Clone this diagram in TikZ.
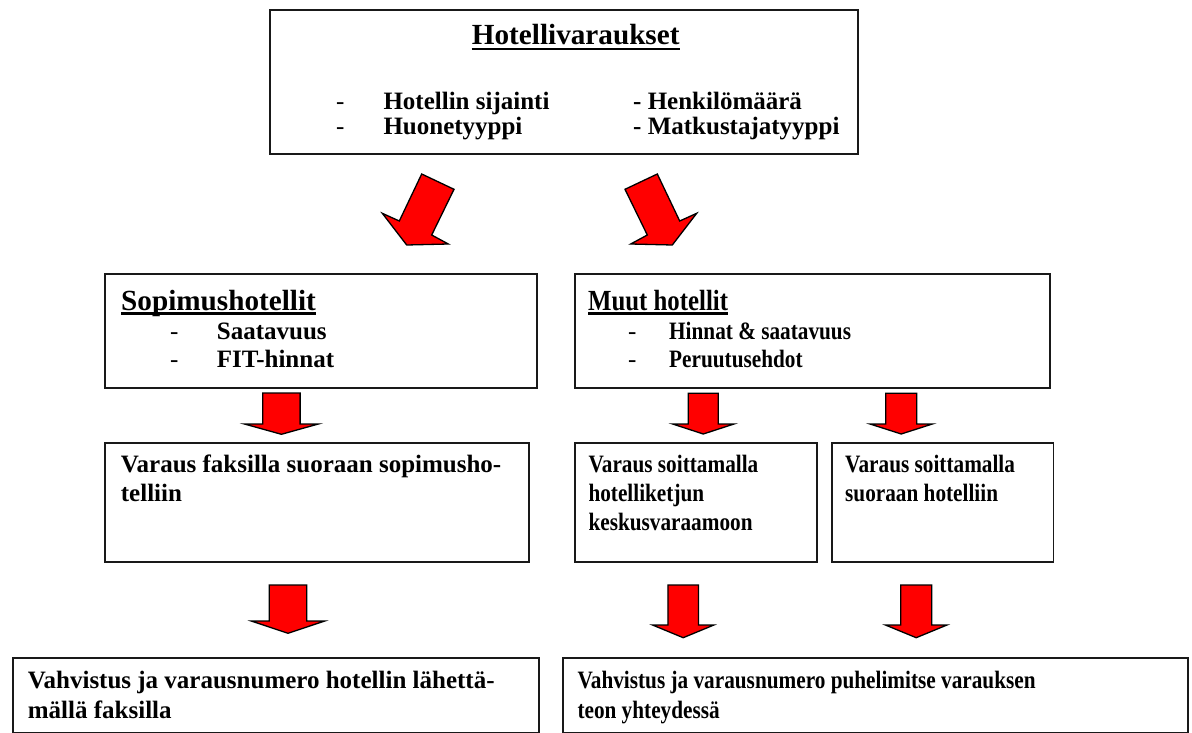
\documentclass[tikz,border=0pt]{standalone}
\usepackage{fontspec}
\setmainfont{Liberation Serif}
\newfontfamily\condfont[FakeStretch=0.85]{Liberation Serif}
\newcommand\blockdown[6]{%
  \draw[blockarrow] ({#1-#2},#4) -- ({#1+#2},#4) -- ({#1+#2},#5) -- ({#1+#3},#5)
    -- (#1,#6) -- ({#1-#3},#5) -- ({#1-#2},#5) -- cycle;}
\begin{document}
\begin{tikzpicture}[x=1pt,y=-1pt,
  box/.style={draw=black!90, line width=1.6pt, inner sep=0pt, anchor=north west, fill=white},
  txt/.style={anchor=base west, inner sep=0pt, font=\bfseries\fontsize{25}{30}\selectfont},
  ctxt/.style={anchor=base west, inner sep=0pt, font=\condfont\bfseries\fontsize{25}{30}\selectfont},
  bullet/.style={anchor=base west, inner sep=0pt, font=\fontsize{25}{30}\selectfont},
  ttl/.style={anchor=base west, inner sep=0pt, font=\bfseries\fontsize{29.2}{34}\selectfont},
  cttl/.style={anchor=base west, inner sep=0pt, font=\condfont\bfseries\fontsize{29.2}{34}\selectfont},
  ul/.style={line width=2.6pt, black},
  blockarrow/.style={fill=red, draw=black, line width=1.3pt, line join=miter}]
\useasboundingbox (0,0) rectangle (1192,733);

% boxes
\node[box, minimum width=588pt, minimum height=144pt] (top) at (269,9.5) {};
\node[box, minimum width=432pt, minimum height=114pt] (sop) at (104,273) {};
\node[box, minimum width=475pt, minimum height=114pt] (muut) at (574,273) {};
\node[box, minimum width=424pt, minimum height=119pt] (vf) at (104,442) {};
\node[box, minimum width=242pt, minimum height=119pt] (vsh) at (574,442) {};
\node[box, minimum width=221.5pt, minimum height=119pt] (vss) at (831,442) {};
\node[box, minimum width=526pt, minimum height=75pt] (bl) at (12,657) {};
\node[box, minimum width=625pt, minimum height=74.5pt] (br) at (562,657) {};

% top box text
\node[ttl] (t0) at (471.7,44.5) {Hotellivaraukset};
\draw[ul] ([yshift=-4.5pt]t0.base west) -- ([yshift=-4.5pt]t0.base east);
\node[bullet] (d1) at (336,109.5) {-};
\node[txt] (t1) at (383.3,109.5) {Hotellin sijainti};
\node[bullet] (d2) at (336,134.5) {-};
\node[txt] (t2) at (383.3,134.5) {Huonetyyppi};
\node[txt] (t3) at (633,109.5) {- Henkilömäärä};
\node[txt] (t4) at (633,134.5) {- Matkustajatyyppi};

% diagonal arrows
\draw[blockarrow] (421.7,174) -- (454,189.3) -- (431.7,235) -- (448.3,244) -- (406.7,245)
  -- (382.3,213.3) -- (399.3,221) -- cycle;
\draw[blockarrow] (657.3,174) -- (625,189.3) -- (647.3,235) -- (630.7,244) -- (672.3,245)
  -- (696.7,213.3) -- (679.7,221) -- cycle;

% Sopimushotellit
\node[ttl] (s0) at (121,310) {Sopimushotellit};
\draw[ul] ([yshift=-3.5pt]s0.base west) -- ([yshift=-3.5pt]s0.base east);
\node[bullet] (sd1) at (170,339) {-};
\node[txt] (s1) at (216.7,339) {Saatavuus};
\node[bullet] (sd2) at (170,367) {-};
\node[txt] (s2) at (216.7,367) {FIT-hinnat};

% Muut hotellit
\node[cttl] (m0) at (588,310) {Muut hotellit};
\draw[ul] ([yshift=-3.5pt]m0.base west) -- ([yshift=-3.5pt]m0.base east);
\node[bullet] (md1) at (628,339) {-};
\node[ctxt] (m1) at (669,339) {Hinnat \& saatavuus};
\node[bullet] (md2) at (628,367) {-};
\node[ctxt] (m2) at (669,367) {Peruutusehdot};

% down arrows (middle row)
\blockdown{281.4}{18.7}{37}{393}{424}{434.3}
\blockdown{703.3}{15}{30.7}{393.3}{424}{434}
\blockdown{901.2}{15.5}{31.2}{393.3}{424}{434}

% third row
\node[txt] (v1) at (120.7,472.7) {Varaus faksilla suoraan sopimusho-};
\node[txt] (v2) at (120.7,501) {telliin};
\node[ctxt] (h1) at (588.3,472.7) {Varaus soittamalla};
\node[ctxt] (h2) at (588.3,501) {hotelliketjun};
\node[ctxt] (h3) at (588.3,530) {keskusvaraamoon};
\node[ctxt] (u1) at (845,472.7) {Varaus soittamalla};
\node[ctxt] (u2) at (845,501) {suoraan hotelliin};

% down arrows (lower row)
\blockdown{288}{18.7}{36.7}{585}{621}{633.3}
\blockdown{683.2}{15.3}{30.7}{585}{625}{637.7}
\blockdown{916.2}{15.5}{30.8}{585}{625}{637.7}

% bottom row
\node[txt] (b1) at (27.7,688.3) {Vahvistus ja varausnumero hotellin lähettä-};
\node[txt] (b2) at (27.7,718.3) {mällä faksilla};
\node[ctxt] (c1) at (577.3,688.3) {Vahvistus ja varausnumero puhelimitse varauksen};
\node[ctxt] (c2) at (577.3,718.3) {teon yhteydessä};
\end{tikzpicture}
\end{document}
